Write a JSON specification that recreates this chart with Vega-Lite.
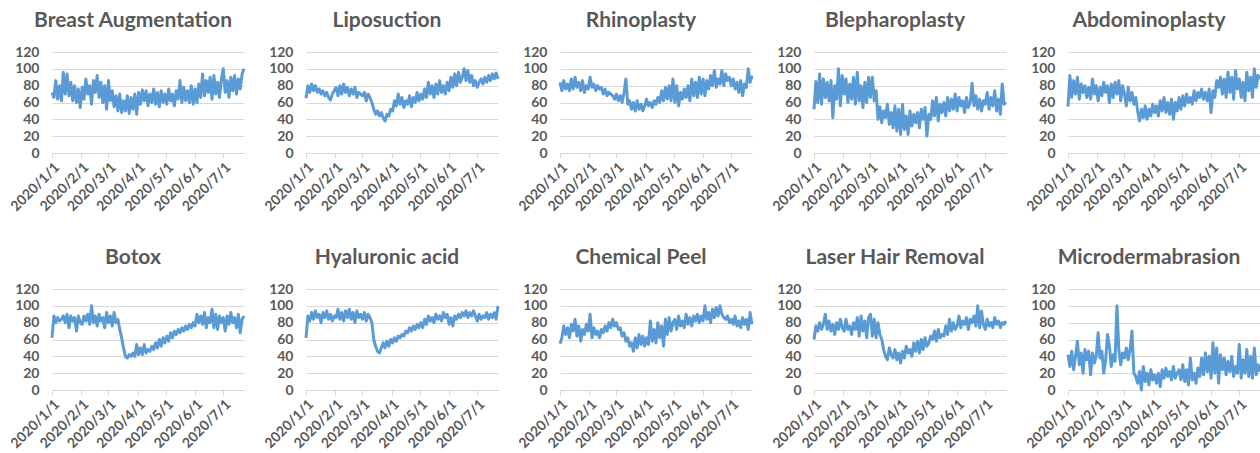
{
"$schema":"https://vega.github.io/schema/vega-lite/v6.json",
"padding":{"left":8,"top":10,"right":0,"bottom":0},
"bounds":"flush",
"background":"#ffffff",
"columns":5,
"spacing":{"row":136,"column":62},
"data":{"values":[
{"d":"2020/1/1","ba":72,"li":65,"rh":84,"bl":52,"ab":55,"bo":62,"hy":62,"cp":55,"la":60,"mi":42},
{"d":"2020/1/3","ba":66,"li":80,"rh":74,"bl":85,"ab":92,"bo":88,"hy":88,"cp":62,"la":76,"mi":28},
{"d":"2020/1/5","ba":86,"li":72,"rh":86,"bl":60,"ab":66,"bo":80,"hy":82,"cp":76,"la":70,"mi":46},
{"d":"2020/1/7","ba":64,"li":82,"rh":76,"bl":94,"ab":86,"bo":86,"hy":92,"cp":66,"la":80,"mi":24},
{"d":"2020/1/9","ba":80,"li":74,"rh":82,"bl":58,"ab":70,"bo":82,"hy":84,"cp":74,"la":72,"mi":40},
{"d":"2020/1/11","ba":62,"li":80,"rh":74,"bl":88,"ab":90,"bo":84,"hy":94,"cp":62,"la":78,"mi":58},
{"d":"2020/1/13","ba":96,"li":72,"rh":88,"bl":66,"ab":64,"bo":88,"hy":86,"cp":78,"la":90,"mi":30},
{"d":"2020/1/15","ba":70,"li":76,"rh":76,"bl":84,"ab":82,"bo":80,"hy":90,"cp":70,"la":72,"mi":44},
{"d":"2020/1/17","ba":94,"li":70,"rh":90,"bl":62,"ab":72,"bo":90,"hy":80,"cp":84,"la":82,"mi":20},
{"d":"2020/1/19","ba":68,"li":74,"rh":78,"bl":86,"ab":80,"bo":74,"hy":92,"cp":64,"la":70,"mi":48},
{"d":"2020/1/21","ba":84,"li":68,"rh":84,"bl":42,"ab":66,"bo":88,"hy":86,"cp":76,"la":78,"mi":36},
{"d":"2020/1/23","ba":62,"li":72,"rh":74,"bl":80,"ab":78,"bo":82,"hy":94,"cp":58,"la":66,"mi":46},
{"d":"2020/1/25","ba":80,"li":66,"rh":86,"bl":64,"ab":64,"bo":86,"hy":84,"cp":72,"la":80,"mi":18},
{"d":"2020/1/27","ba":60,"li":63,"rh":72,"bl":100,"ab":88,"bo":70,"hy":90,"cp":66,"la":72,"mi":44},
{"d":"2020/1/29","ba":76,"li":70,"rh":80,"bl":56,"ab":70,"bo":88,"hy":82,"cp":78,"la":84,"mi":32},
{"d":"2020/1/31","ba":54,"li":74,"rh":76,"bl":92,"ab":80,"bo":80,"hy":88,"cp":70,"la":74,"mi":40},
{"d":"2020/2/2","ba":78,"li":78,"rh":90,"bl":70,"ab":62,"bo":78,"hy":86,"cp":90,"la":70,"mi":68},
{"d":"2020/2/4","ba":64,"li":68,"rh":78,"bl":88,"ab":78,"bo":88,"hy":96,"cp":62,"la":84,"mi":38},
{"d":"2020/2/6","ba":88,"li":80,"rh":82,"bl":60,"ab":68,"bo":82,"hy":84,"cp":74,"la":72,"mi":46},
{"d":"2020/2/8","ba":70,"li":70,"rh":74,"bl":82,"ab":84,"bo":90,"hy":92,"cp":66,"la":76,"mi":20},
{"d":"2020/2/10","ba":80,"li":82,"rh":80,"bl":64,"ab":72,"bo":78,"hy":82,"cp":70,"la":66,"mi":36},
{"d":"2020/2/12","ba":58,"li":72,"rh":76,"bl":90,"ab":80,"bo":100,"hy":94,"cp":62,"la":80,"mi":66},
{"d":"2020/2/14","ba":86,"li":78,"rh":78,"bl":58,"ab":60,"bo":80,"hy":86,"cp":72,"la":72,"mi":52},
{"d":"2020/2/16","ba":72,"li":68,"rh":70,"bl":96,"ab":82,"bo":88,"hy":96,"cp":68,"la":86,"mi":28},
{"d":"2020/2/18","ba":92,"li":76,"rh":76,"bl":62,"ab":66,"bo":76,"hy":84,"cp":76,"la":64,"mi":42},
{"d":"2020/2/20","ba":66,"li":70,"rh":68,"bl":80,"ab":84,"bo":90,"hy":92,"cp":70,"la":88,"mi":34},
{"d":"2020/2/22","ba":84,"li":78,"rh":72,"bl":54,"ab":70,"bo":82,"hy":80,"cp":80,"la":70,"mi":100},
{"d":"2020/2/24","ba":60,"li":66,"rh":70,"bl":84,"ab":86,"bo":86,"hy":94,"cp":74,"la":82,"mi":48},
{"d":"2020/2/26","ba":80,"li":72,"rh":68,"bl":60,"ab":62,"bo":74,"hy":86,"cp":84,"la":62,"mi":30},
{"d":"2020/2/28","ba":52,"li":70,"rh":64,"bl":90,"ab":80,"bo":92,"hy":90,"cp":76,"la":86,"mi":44},
{"d":"2020/3/1","ba":86,"li":68,"rh":70,"bl":66,"ab":70,"bo":80,"hy":84,"cp":80,"la":90,"mi":38},
{"d":"2020/3/3","ba":62,"li":72,"rh":62,"bl":90,"ab":56,"bo":88,"hy":92,"cp":72,"la":64,"mi":50},
{"d":"2020/3/5","ba":74,"li":62,"rh":68,"bl":62,"ab":78,"bo":76,"hy":82,"cp":74,"la":84,"mi":36},
{"d":"2020/3/7","ba":55,"li":70,"rh":60,"bl":74,"ab":62,"bo":92,"hy":90,"cp":64,"la":62,"mi":48},
{"d":"2020/3/9","ba":68,"li":66,"rh":72,"bl":40,"ab":72,"bo":80,"hy":86,"cp":68,"la":80,"mi":70},
{"d":"2020/3/11","ba":50,"li":60,"rh":88,"bl":55,"ab":58,"bo":84,"hy":80,"cp":58,"la":66,"mi":20},
{"d":"2020/3/13","ba":70,"li":52,"rh":58,"bl":36,"ab":66,"bo":72,"hy":60,"cp":62,"la":60,"mi":16},
{"d":"2020/3/15","ba":48,"li":46,"rh":62,"bl":50,"ab":50,"bo":62,"hy":52,"cp":52,"la":48,"mi":8},
{"d":"2020/3/17","ba":62,"li":50,"rh":52,"bl":42,"ab":38,"bo":50,"hy":46,"cp":56,"la":40,"mi":22},
{"d":"2020/3/19","ba":50,"li":44,"rh":60,"bl":58,"ab":52,"bo":40,"hy":44,"cp":46,"la":36,"mi":0},
{"d":"2020/3/21","ba":68,"li":48,"rh":50,"bl":34,"ab":42,"bo":38,"hy":50,"cp":62,"la":50,"mi":28},
{"d":"2020/3/23","ba":47,"li":42,"rh":62,"bl":48,"ab":56,"bo":42,"hy":56,"cp":50,"la":42,"mi":10},
{"d":"2020/3/25","ba":66,"li":38,"rh":52,"bl":30,"ab":40,"bo":40,"hy":50,"cp":66,"la":38,"mi":20},
{"d":"2020/3/27","ba":52,"li":46,"rh":58,"bl":56,"ab":52,"bo":44,"hy":58,"cp":54,"la":48,"mi":6},
{"d":"2020/3/29","ba":70,"li":44,"rh":50,"bl":26,"ab":44,"bo":40,"hy":52,"cp":64,"la":36,"mi":24},
{"d":"2020/3/31","ba":46,"li":52,"rh":56,"bl":52,"ab":58,"bo":54,"hy":60,"cp":52,"la":44,"mi":12},
{"d":"2020/4/2","ba":72,"li":50,"rh":64,"bl":22,"ab":48,"bo":42,"hy":56,"cp":62,"la":32,"mi":18},
{"d":"2020/4/4","ba":58,"li":62,"rh":56,"bl":58,"ab":56,"bo":50,"hy":62,"cp":54,"la":46,"mi":8},
{"d":"2020/4/6","ba":75,"li":56,"rh":60,"bl":28,"ab":44,"bo":42,"hy":58,"cp":82,"la":38,"mi":20},
{"d":"2020/4/8","ba":62,"li":70,"rh":54,"bl":44,"ab":62,"bo":54,"hy":64,"cp":58,"la":52,"mi":4},
{"d":"2020/4/10","ba":74,"li":58,"rh":62,"bl":22,"ab":50,"bo":44,"hy":62,"cp":72,"la":44,"mi":24},
{"d":"2020/4/12","ba":56,"li":66,"rh":58,"bl":50,"ab":66,"bo":48,"hy":66,"cp":56,"la":48,"mi":14},
{"d":"2020/4/14","ba":70,"li":54,"rh":66,"bl":32,"ab":48,"bo":46,"hy":64,"cp":80,"la":40,"mi":26},
{"d":"2020/4/16","ba":60,"li":62,"rh":60,"bl":46,"ab":60,"bo":52,"hy":70,"cp":62,"la":56,"mi":16},
{"d":"2020/4/18","ba":76,"li":58,"rh":74,"bl":36,"ab":46,"bo":48,"hy":68,"cp":76,"la":46,"mi":22},
{"d":"2020/4/20","ba":58,"li":68,"rh":62,"bl":48,"ab":64,"bo":56,"hy":74,"cp":52,"la":58,"mi":12},
{"d":"2020/4/22","ba":72,"li":55,"rh":78,"bl":30,"ab":40,"bo":50,"hy":70,"cp":84,"la":44,"mi":28},
{"d":"2020/4/24","ba":55,"li":66,"rh":64,"bl":52,"ab":60,"bo":60,"hy":76,"cp":66,"la":60,"mi":14},
{"d":"2020/4/26","ba":74,"li":60,"rh":80,"bl":40,"ab":50,"bo":52,"hy":72,"cp":86,"la":48,"mi":20},
{"d":"2020/4/28","ba":60,"li":72,"rh":62,"bl":54,"ab":66,"bo":62,"hy":78,"cp":70,"la":62,"mi":24},
{"d":"2020/4/30","ba":70,"li":62,"rh":88,"bl":20,"ab":52,"bo":56,"hy":74,"cp":80,"la":52,"mi":12},
{"d":"2020/5/2","ba":58,"li":70,"rh":60,"bl":46,"ab":68,"bo":64,"hy":80,"cp":84,"la":56,"mi":30},
{"d":"2020/5/4","ba":76,"li":64,"rh":80,"bl":40,"ab":56,"bo":58,"hy":74,"cp":72,"la":64,"mi":10},
{"d":"2020/5/6","ba":62,"li":76,"rh":56,"bl":62,"ab":70,"bo":68,"hy":84,"cp":88,"la":60,"mi":24},
{"d":"2020/5/8","ba":70,"li":66,"rh":72,"bl":44,"ab":60,"bo":62,"hy":78,"cp":76,"la":70,"mi":6},
{"d":"2020/5/10","ba":56,"li":84,"rh":64,"bl":66,"ab":66,"bo":70,"hy":88,"cp":82,"la":58,"mi":38},
{"d":"2020/5/12","ba":74,"li":70,"rh":76,"bl":38,"ab":58,"bo":66,"hy":82,"cp":74,"la":72,"mi":12},
{"d":"2020/5/14","ba":64,"li":80,"rh":66,"bl":58,"ab":74,"bo":72,"hy":86,"cp":90,"la":62,"mi":20},
{"d":"2020/5/16","ba":86,"li":66,"rh":80,"bl":48,"ab":62,"bo":68,"hy":80,"cp":78,"la":66,"mi":8},
{"d":"2020/5/18","ba":60,"li":82,"rh":62,"bl":60,"ab":72,"bo":74,"hy":90,"cp":86,"la":64,"mi":26},
{"d":"2020/5/20","ba":78,"li":70,"rh":88,"bl":44,"ab":66,"bo":70,"hy":84,"cp":76,"la":76,"mi":16},
{"d":"2020/5/22","ba":62,"li":86,"rh":68,"bl":66,"ab":76,"bo":76,"hy":88,"cp":88,"la":66,"mi":38},
{"d":"2020/5/24","ba":74,"li":72,"rh":84,"bl":50,"ab":64,"bo":72,"hy":82,"cp":82,"la":84,"mi":18},
{"d":"2020/5/26","ba":60,"li":80,"rh":66,"bl":64,"ab":72,"bo":78,"hy":92,"cp":90,"la":70,"mi":44},
{"d":"2020/5/28","ba":80,"li":70,"rh":90,"bl":52,"ab":62,"bo":74,"hy":86,"cp":80,"la":80,"mi":22},
{"d":"2020/5/30","ba":58,"li":84,"rh":70,"bl":70,"ab":76,"bo":80,"hy":90,"cp":88,"la":72,"mi":40},
{"d":"2020/6/1","ba":76,"li":74,"rh":88,"bl":50,"ab":48,"bo":76,"hy":78,"cp":82,"la":76,"mi":14},
{"d":"2020/6/3","ba":60,"li":90,"rh":68,"bl":66,"ab":74,"bo":90,"hy":86,"cp":100,"la":88,"mi":56},
{"d":"2020/6/5","ba":82,"li":78,"rh":86,"bl":56,"ab":66,"bo":80,"hy":76,"cp":84,"la":74,"mi":20},
{"d":"2020/6/7","ba":66,"li":94,"rh":76,"bl":62,"ab":86,"bo":88,"hy":88,"cp":92,"la":82,"mi":50},
{"d":"2020/6/9","ba":94,"li":80,"rh":92,"bl":48,"ab":78,"bo":78,"hy":84,"cp":80,"la":78,"mi":8},
{"d":"2020/6/11","ba":68,"li":96,"rh":80,"bl":66,"ab":90,"bo":92,"hy":90,"cp":96,"la":86,"mi":42},
{"d":"2020/6/13","ba":86,"li":84,"rh":98,"bl":54,"ab":70,"bo":74,"hy":86,"cp":86,"la":72,"mi":24},
{"d":"2020/6/15","ba":72,"li":90,"rh":78,"bl":60,"ab":88,"bo":86,"hy":92,"cp":98,"la":84,"mi":38},
{"d":"2020/6/17","ba":90,"li":100,"rh":88,"bl":83,"ab":66,"bo":80,"hy":88,"cp":88,"la":80,"mi":18},
{"d":"2020/6/19","ba":64,"li":86,"rh":82,"bl":56,"ab":96,"bo":96,"hy":94,"cp":100,"la":88,"mi":34},
{"d":"2020/6/21","ba":92,"li":98,"rh":98,"bl":68,"ab":72,"bo":74,"hy":86,"cp":90,"la":76,"mi":22},
{"d":"2020/6/23","ba":70,"li":84,"rh":80,"bl":52,"ab":90,"bo":90,"hy":92,"cp":86,"la":100,"mi":40},
{"d":"2020/6/25","ba":84,"li":92,"rh":94,"bl":64,"ab":64,"bo":72,"hy":88,"cp":84,"la":74,"mi":16},
{"d":"2020/6/27","ba":66,"li":80,"rh":86,"bl":50,"ab":98,"bo":88,"hy":94,"cp":88,"la":94,"mi":28},
{"d":"2020/6/29","ba":88,"li":86,"rh":90,"bl":62,"ab":76,"bo":80,"hy":88,"cp":80,"la":78,"mi":20},
{"d":"2020/7/1","ba":100,"li":78,"rh":80,"bl":58,"ab":88,"bo":86,"hy":82,"cp":84,"la":72,"mi":54},
{"d":"2020/7/3","ba":72,"li":84,"rh":88,"bl":72,"ab":66,"bo":70,"hy":90,"cp":78,"la":84,"mi":14},
{"d":"2020/7/5","ba":86,"li":88,"rh":76,"bl":52,"ab":84,"bo":88,"hy":84,"cp":88,"la":76,"mi":36},
{"d":"2020/7/7","ba":66,"li":82,"rh":84,"bl":66,"ab":62,"bo":78,"hy":88,"cp":76,"la":80,"mi":20},
{"d":"2020/7/9","ba":90,"li":90,"rh":72,"bl":56,"ab":96,"bo":92,"hy":86,"cp":82,"la":74,"mi":48},
{"d":"2020/7/11","ba":74,"li":84,"rh":86,"bl":74,"ab":74,"bo":80,"hy":92,"cp":74,"la":86,"mi":16},
{"d":"2020/7/13","ba":92,"li":92,"rh":68,"bl":50,"ab":90,"bo":86,"hy":84,"cp":86,"la":78,"mi":40},
{"d":"2020/7/15","ba":70,"li":86,"rh":82,"bl":64,"ab":66,"bo":74,"hy":90,"cp":78,"la":82,"mi":14},
{"d":"2020/7/17","ba":88,"li":94,"rh":78,"bl":46,"ab":100,"bo":90,"hy":86,"cp":84,"la":74,"mi":50},
{"d":"2020/7/19","ba":76,"li":88,"rh":100,"bl":82,"ab":78,"bo":68,"hy":92,"cp":72,"la":80,"mi":18},
{"d":"2020/7/21","ba":94,"li":95,"rh":84,"bl":58,"ab":92,"bo":84,"hy":84,"cp":92,"la":78,"mi":30},
{"d":"2020/7/23","ba":100,"li":88,"rh":92,"bl":60,"ab":88,"bo":88,"hy":100,"cp":78,"la":82,"mi":22}
]},
"concat":[
{"title":"Breast Augmentation","width":192,"height":101,"mark":{"type":"line","color":"#5B9BD5","strokeWidth":3,"strokeJoin":"round"},
 "encoding":{"x":{"field":"d","type":"temporal","title":null,"scale":{"domain":[{"year":2020,"month":1,"date":1},{"year":2020,"month":7,"date":23}]},"axis":{"format":"%Y/%-m/%-d","tickCount":{"interval":"month","step":1}}},
 "y":{"field":"ba","type":"quantitative","title":null,"scale":{"domain":[0,120],"nice":false},"axis":{"values":[0,20,40,60,80,100,120]}}}},
{"title":"Liposuction","width":192,"height":101,"mark":{"type":"line","color":"#5B9BD5","strokeWidth":3,"strokeJoin":"round"},
 "encoding":{"x":{"field":"d","type":"temporal","title":null,"scale":{"domain":[{"year":2020,"month":1,"date":1},{"year":2020,"month":7,"date":23}]},"axis":{"format":"%Y/%-m/%-d","tickCount":{"interval":"month","step":1}}},
 "y":{"field":"li","type":"quantitative","title":null,"scale":{"domain":[0,120],"nice":false},"axis":{"values":[0,20,40,60,80,100,120]}}}},
{"title":"Rhinoplasty","width":192,"height":101,"mark":{"type":"line","color":"#5B9BD5","strokeWidth":3,"strokeJoin":"round"},
 "encoding":{"x":{"field":"d","type":"temporal","title":null,"scale":{"domain":[{"year":2020,"month":1,"date":1},{"year":2020,"month":7,"date":23}]},"axis":{"format":"%Y/%-m/%-d","tickCount":{"interval":"month","step":1}}},
 "y":{"field":"rh","type":"quantitative","title":null,"scale":{"domain":[0,120],"nice":false},"axis":{"values":[0,20,40,60,80,100,120]}}}},
{"title":"Blepharoplasty","width":192,"height":101,"mark":{"type":"line","color":"#5B9BD5","strokeWidth":3,"strokeJoin":"round"},
 "encoding":{"x":{"field":"d","type":"temporal","title":null,"scale":{"domain":[{"year":2020,"month":1,"date":1},{"year":2020,"month":7,"date":23}]},"axis":{"format":"%Y/%-m/%-d","tickCount":{"interval":"month","step":1}}},
 "y":{"field":"bl","type":"quantitative","title":null,"scale":{"domain":[0,120],"nice":false},"axis":{"values":[0,20,40,60,80,100,120]}}}},
{"title":"Abdominoplasty","width":192,"height":101,"mark":{"type":"line","color":"#5B9BD5","strokeWidth":3,"strokeJoin":"round"},
 "encoding":{"x":{"field":"d","type":"temporal","title":null,"scale":{"domain":[{"year":2020,"month":1,"date":1},{"year":2020,"month":7,"date":23}]},"axis":{"format":"%Y/%-m/%-d","tickCount":{"interval":"month","step":1}}},
 "y":{"field":"ab","type":"quantitative","title":null,"scale":{"domain":[0,120],"nice":false},"axis":{"values":[0,20,40,60,80,100,120]}}}},
{"title":"Botox","width":192,"height":101,"mark":{"type":"line","color":"#5B9BD5","strokeWidth":3,"strokeJoin":"round"},
 "encoding":{"x":{"field":"d","type":"temporal","title":null,"scale":{"domain":[{"year":2020,"month":1,"date":1},{"year":2020,"month":7,"date":23}]},"axis":{"format":"%Y/%-m/%-d","tickCount":{"interval":"month","step":1}}},
 "y":{"field":"bo","type":"quantitative","title":null,"scale":{"domain":[0,120],"nice":false},"axis":{"values":[0,20,40,60,80,100,120]}}}},
{"title":"Hyaluronic acid","width":192,"height":101,"mark":{"type":"line","color":"#5B9BD5","strokeWidth":3,"strokeJoin":"round"},
 "encoding":{"x":{"field":"d","type":"temporal","title":null,"scale":{"domain":[{"year":2020,"month":1,"date":1},{"year":2020,"month":7,"date":23}]},"axis":{"format":"%Y/%-m/%-d","tickCount":{"interval":"month","step":1}}},
 "y":{"field":"hy","type":"quantitative","title":null,"scale":{"domain":[0,120],"nice":false},"axis":{"values":[0,20,40,60,80,100,120]}}}},
{"title":"Chemical Peel","width":192,"height":101,"mark":{"type":"line","color":"#5B9BD5","strokeWidth":3,"strokeJoin":"round"},
 "encoding":{"x":{"field":"d","type":"temporal","title":null,"scale":{"domain":[{"year":2020,"month":1,"date":1},{"year":2020,"month":7,"date":23}]},"axis":{"format":"%Y/%-m/%-d","tickCount":{"interval":"month","step":1}}},
 "y":{"field":"cp","type":"quantitative","title":null,"scale":{"domain":[0,120],"nice":false},"axis":{"values":[0,20,40,60,80,100,120]}}}},
{"title":"Laser Hair Removal","width":192,"height":101,"mark":{"type":"line","color":"#5B9BD5","strokeWidth":3,"strokeJoin":"round"},
 "encoding":{"x":{"field":"d","type":"temporal","title":null,"scale":{"domain":[{"year":2020,"month":1,"date":1},{"year":2020,"month":7,"date":23}]},"axis":{"format":"%Y/%-m/%-d","tickCount":{"interval":"month","step":1}}},
 "y":{"field":"la","type":"quantitative","title":null,"scale":{"domain":[0,120],"nice":false},"axis":{"values":[0,20,40,60,80,100,120]}}}},
{"title":"Microdermabrasion","width":192,"height":101,"mark":{"type":"line","color":"#5B9BD5","strokeWidth":3,"strokeJoin":"round"},
 "encoding":{"x":{"field":"d","type":"temporal","title":null,"scale":{"domain":[{"year":2020,"month":1,"date":1},{"year":2020,"month":7,"date":23}]},"axis":{"format":"%Y/%-m/%-d","tickCount":{"interval":"month","step":1}}},
 "y":{"field":"mi","type":"quantitative","title":null,"scale":{"domain":[0,120],"nice":false},"axis":{"values":[0,20,40,60,80,100,120]}}}}
],
"config":{
 "view":{"stroke":null},
 "title":{"fontSize":21,"font":"Lato","fontWeight":"bold","color":"#595959","dx":-15,"offset":14,"anchor":"middle"},
 "axisX":{"grid":false,"domainColor":"#d9d9d9","domainWidth":1,"tickColor":"#d9d9d9","tickSize":5,"labelAngle":-45,"labelFontSize":14,"labelFontWeight":"bold","labelColor":"#595959","labelFont":"Lato","labelOverlap":false,"labelPadding":2,"labelFlush":false},
 "axisY":{"domain":false,"ticks":false,"grid":true,"gridColor":"#d9d9d9","labelFontSize":14,"labelFontWeight":"bold","labelColor":"#595959","labelFont":"Lato","labelPadding":13}
}
}
